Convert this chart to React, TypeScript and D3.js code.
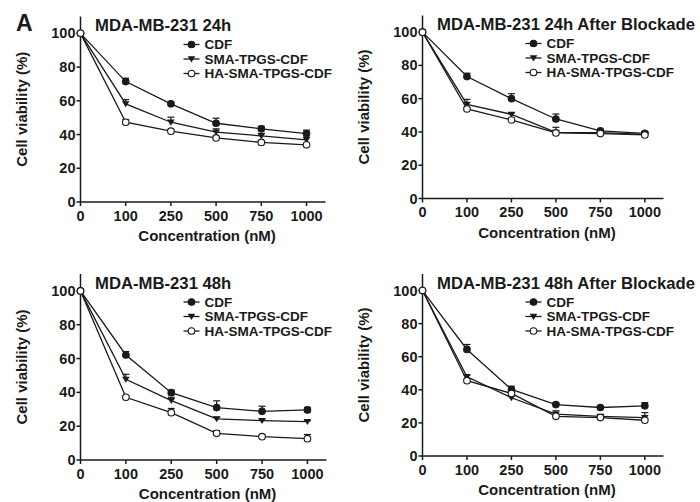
import { scaleLinear, line } from "d3";

const CONC = ["0", "100", "250", "500", "750", "1000"];
const Y_TICKS = [0, 20, 40, 60, 80, 100];
const SERIES = ["CDF", "SMA-TPGS-CDF", "HA-SMA-TPGS-CDF"];

// 24h
const cdf24 = [100, 71.4, 58.2, 46.7, 43.4, 40.6];
const cdf24Err = [0, 2, 1, 3, 1.5, 2];
const sma24 = [100, 58.2, 47.3, 41.4, 39.2, 36.9];
const sma24Err = [0, 2.5, 3, 2, 1.5, 1.5];
const ha24 = [100, 47.3, 42, 38, 35.3, 33.9];
const ha24Err = [0, 1.5, 1, 1, 1, 1];

// 24h after blockade
const cdf24b = [100, 73.3, 60, 47.8, 40.6, 39.2];
const cdf24bErr = [0, 2, 3, 3, 1, 1];
const sma24b = [100, 56.6, 50.6, 39.8, 39.6, 38.6];
const sma24bErr = [0, 3, 1, 3, 1, 1];
const ha24b = [100, 53.8, 47.2, 39.4, 39, 38.2];
const ha24bErr = [0, 1, 1, 1, 0.5, 0.5];

// 48h
const cdf48 = [100, 62.1, 39.8, 31, 28.8, 29.6];
const cdf48Err = [0, 2, 1.5, 4, 3, 1.5];
const sma48 = [100, 47.7, 35.1, 24.3, 23.3, 22.7];
const sma48Err = [0, 3, 2, 1, 1, 0.5];
const ha48 = [100, 37.1, 28, 15.8, 13.8, 12.6];
const ha48Err = [0, 1, 2.5, 1.5, 1, 2.5];

// 48h after blockade
const cdf48b = [100, 64.4, 40.2, 31.1, 29.3, 30.3];
const cdf48bErr = [0, 3, 2, 1, 1, 2];
const sma48b = [100, 47.9, 35.2, 25.3, 24, 23.2];
const sma48bErr = [0, 1, 1, 2, 1, 3];
const ha48b = [100, 45.5, 37.8, 24, 23.2, 21.6];
const ha48bErr = [0, 1, 1, 1, 0.5, 1];

const PANELS = [
  { title: "MDA-MB-231 24h", left: 80.5, bottom: 202, width: 245, height: 185.5, values: [cdf24, sma24, ha24], errors: [cdf24Err, sma24Err, ha24Err] },
  { title: "MDA-MB-231 24h After Blockade", left: 422.5, bottom: 198.5, width: 241, height: 183, values: [cdf24b, sma24b, ha24b], errors: [cdf24bErr, sma24bErr, ha24bErr] },
  { title: "MDA-MB-231 48h", left: 80.5, bottom: 460, width: 246, height: 186, values: [cdf48, sma48, ha48], errors: [cdf48Err, sma48Err, ha48Err] },
  { title: "MDA-MB-231 48h After Blockade", left: 422.5, bottom: 456, width: 241, height: 182, values: [cdf48b, sma48b, ha48b], errors: [cdf48bErr, sma48bErr, ha48bErr] },
];

const FONT = "'Liberation Sans', Arial, sans-serif";
const INK = "#1a1a1a";

function Marker({ kind, x, y }: { kind: number; x: number; y: number }) {
  if (kind === 1) {
    const s = 3.8;
    return <path d={`M${x - s},${y - s * 0.7}L${x + s},${y - s * 0.7}L${x},${y + s * 0.9}Z`} fill={INK} />;
  }
  return <circle cx={x} cy={y} r={3.3} fill={kind === 0 ? INK : "#fff"} stroke={INK} strokeWidth={1.1} />;
}

function Panel({ panel }: { panel: (typeof PANELS)[number] }) {
  const { left, bottom, width, height } = panel;
  const top = bottom - height;
  const x = scaleLinear().domain([0, 5.42]).range([left, left + width]);
  const y = scaleLinear().domain([0, 110]).range([bottom, top]);
  const path = line<number>()
    .x((_, i) => x(i))
    .y((d) => y(d));

  return (
    <g>
      <text x={left + 14.5} y={top + 14.5} fontSize={16.7} fontWeight="bold" fill={INK}>
        {panel.title}
      </text>

      {/* axes */}
      <line x1={left} x2={left} y1={top} y2={bottom} stroke={INK} strokeWidth={1.5} />
      <line x1={left} x2={left + width} y1={bottom} y2={bottom} stroke={INK} strokeWidth={1.5} />
      {Y_TICKS.map((t) => (
        <g key={t}>
          <line x1={left - 4} x2={left} y1={y(t)} y2={y(t)} stroke={INK} strokeWidth={1.5} />
          <text x={left - 5} y={y(t) + 5} textAnchor="end" fontSize={14.5} fontWeight="bold" fill={INK}>
            {t}
          </text>
        </g>
      ))}
      {CONC.map((c, i) => (
        <g key={c}>
          <line x1={x(i)} x2={x(i)} y1={bottom} y2={bottom + 4} stroke={INK} strokeWidth={1.5} />
          <text x={x(i)} y={bottom + 18.5} textAnchor="middle" fontSize={14.5} fontWeight="bold" fill={INK}>
            {c}
          </text>
        </g>
      ))}
      <text x={x(2.8)} y={bottom + 39} textAnchor="middle" fontSize={15} fontWeight="bold" fill={INK}>
        Concentration (nM)
      </text>
      <text
        transform={`translate(${left - 54},${(top + bottom) / 2}) rotate(-90)`}
        textAnchor="middle"
        fontSize={15}
        fontWeight="bold"
        fill={INK}
      >
        Cell viability (%)
      </text>

      {/* series */}
      {panel.values.map((vals, s) => (
        <g key={s}>
          <path d={path(vals) ?? ""} fill="none" stroke={INK} strokeWidth={1.3} />
          {vals.map((v, i) => {
            const e = panel.errors[s][i];
            if (!e) return null;
            return (
              <g key={i} stroke={INK} strokeWidth={1.2}>
                <line x1={x(i)} x2={x(i)} y1={y(v)} y2={y(v + e)} />
                <line x1={x(i) - 3.5} x2={x(i) + 3.5} y1={y(v + e)} y2={y(v + e)} />
              </g>
            );
          })}
          {vals.map((v, i) => (
            <Marker key={i} kind={s} x={x(i)} y={y(v)} />
          ))}
        </g>
      ))}

      {/* legend */}
      {SERIES.map((name, s) => {
        const ly = top + 28 + s * 14.5;
        const lx = left + 111;
        return (
          <g key={name}>
            <line x1={lx - 8} x2={lx + 8} y1={ly} y2={ly} stroke={INK} strokeWidth={1.3} />
            <Marker kind={s} x={lx} y={ly} />
            <text x={lx + 13} y={ly + 4.8} fontSize={13.5} fontWeight="bold" fill={INK}>
              {name}
            </text>
          </g>
        );
      })}
    </g>
  );
}

export default function App() {
  return (
    <svg
      width={700}
      height={502}
      viewBox="0 0 700 502"
      style={{ position: "absolute", left: 0, top: 0, background: "#fff", fontFamily: FONT }}
    >
      <rect width={700} height={502} fill="#fff" />
      <text x={16} y={31} fontSize={23} fontWeight="bold" fill={INK}>
        A
      </text>
      {PANELS.map((p) => (
        <Panel key={p.title} panel={p} />
      ))}
    </svg>
  );
}
